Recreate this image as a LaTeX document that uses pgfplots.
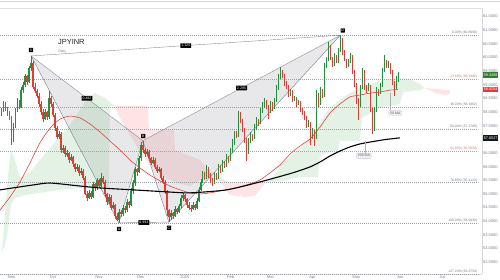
\documentclass[border=0pt]{standalone}
\usepackage{pgfplots}
\pgfplotsset{compat=1.18}
\usepackage{pgfplotstable}
\usepackage{fontspec}
\setmainfont{Liberation Sans}
\definecolor{cup}{HTML}{22903C}
\definecolor{cdn}{HTML}{E53935}
\definecolor{ma50}{HTML}{E53935}
\definecolor{fibgray}{HTML}{9AA0A6}
\definecolor{fibred}{HTML}{E08A8A}
\definecolor{cloudg}{HTML}{C8E6C9}
\definecolor{cloudr}{HTML}{FFCDD2}
\definecolor{patfill}{HTML}{9598A1}
\definecolor{patline}{HTML}{8A8E98}
\definecolor{lbl}{HTML}{787B86}
\definecolor{boxg}{HTML}{2E7D32}
\definecolor{boxr}{HTML}{E53935}
\definecolor{boxk}{HTML}{131722}
\definecolor{mabox}{HTML}{EEF0F3}
\definecolor{maboxd}{HTML}{C5C9D0}
\definecolor{pinkline}{HTML}{F3C6CA}

\pgfplotstableread{
i o h l c
-5 57.95 58.15 57.85 58.05
-4 58.05 58.40 58.00 58.30
1 57.00 57.60 56.90 57.50
2 57.50 58.15 57.40 58.10
3 58.10 58.50 58.00 58.40
5 58.20 58.90 58.15 58.80
6 58.80 59.10 58.70 59.00
7 59.00 59.40 58.90 59.30
9 59.10 59.70 59.05 59.60
10 59.60 60.05 59.50 59.80
17 57.75 58.10 57.70 58.00
19 57.80 58.75 57.75 58.50
24 57.10 57.30 57.00 57.20
26 56.60 56.80 56.50 56.70
28 56.45 56.60 56.35 56.50
30 56.25 56.45 56.20 56.35
33 55.90 56.10 55.85 56.00
35 55.75 55.95 55.70 55.85
39 54.85 55.15 54.80 55.05
41 54.90 55.45 54.85 55.35
43 55.20 55.60 55.15 55.50
45 55.30 55.75 55.25 55.60
49 54.70 55.00 54.65 54.90
51 54.50 54.70 54.45 54.60
54 54.05 54.45 53.943 54.35
56 54.25 54.60 54.20 54.50
58 54.40 54.80 54.35 54.70
60 54.60 55.20 54.55 55.10
61 55.10 55.50 55.00 55.40
62 55.40 56.00 55.30 55.90
64 55.80 56.40 55.75 56.30
65 56.30 56.90 56.20 56.80
68 56.45 56.65 56.40 56.55
71 56.15 56.35 56.10 56.25
74 55.85 56.00 55.80 55.90
80 54.15 54.40 54.05 54.30
82 54.20 54.55 54.15 54.45
84 54.35 54.65 54.30 54.55
85 54.55 54.95 54.50 54.85
86 54.85 55.05 54.75 54.95
91 54.45 54.70 54.40 54.60
93 54.50 54.85 54.45 54.75
94 54.75 55.25 54.70 55.15
95 55.15 55.55 55.10 55.45
96 55.45 55.85 55.40 55.75
98 55.60 56.05 55.55 55.95
102 55.40 55.80 55.35 55.70
104 55.60 56.10 55.55 56.00
106 55.85 56.25 55.80 56.15
108 56.05 56.45 56.00 56.35
110 56.25 56.70 56.20 56.60
111 56.60 57.00 56.50 56.90
112 56.90 57.30 56.80 57.20
114 57.15 58.05 57.10 57.95
119 56.55 57.05 56.45 56.95
120 56.95 57.25 56.85 57.15
122 57.05 57.55 57.00 57.45
123 57.45 57.80 57.35 57.70
125 57.60 58.15 57.55 58.05
126 58.05 58.35 57.95 58.25
127 58.25 58.50 58.15 58.40
130 58.00 58.40 57.95 58.30
132 58.15 58.50 58.10 58.40
133 58.40 59.00 58.35 58.90
134 58.90 59.40 58.80 59.30
135 59.30 59.65 59.20 59.50
140 58.65 58.85 58.60 58.75
142 58.45 58.60 58.40 58.50
144 58.30 58.45 58.25 58.35
149 57.50 57.70 57.45 57.60
151 57.10 57.40 57.00 57.30
153 57.05 58.80 57.00 58.60
155 58.30 58.90 58.25 58.80
157 58.60 59.80 58.55 59.70
158 59.70 60.00 59.60 59.90
159 59.90 60.55 59.85 60.40
162 59.75 60.15 59.70 60.05
164 59.85 60.35 59.80 60.25
165 60.25 60.809 60.20 60.55
169 59.70 59.95 59.65 59.85
170 59.85 60.15 59.80 60.05
175 58.25 59.00 58.20 58.90
176 58.90 59.60 58.85 59.50
179 58.80 59.05 58.75 58.95
182 57.35 58.20 57.30 58.10
183 58.10 58.90 58.00 58.80
185 58.70 59.05 58.65 58.95
186 58.95 59.60 58.90 59.50
187 59.50 60.10 59.45 59.80
189 59.70 59.85 59.60 59.75
193 58.90 59.30 58.85 59.20
194 59.20 59.45 59.10 59.35
}\upc

\pgfplotstableread{
i o h l c
-3 58.30 58.35 58.05 58.10
-2 58.10 58.20 57.85 57.95
-1 57.95 58.05 57.70 57.80
0 57.80 57.85 56.80 57.00
4 58.40 58.45 58.10 58.20
8 59.30 59.35 59.00 59.10
11 59.80 59.85 58.85 58.90
12 58.90 59.05 58.70 58.75
13 58.75 58.85 58.50 58.60
14 58.60 58.70 58.20 58.30
15 58.30 58.40 57.90 58.00
16 58.00 58.10 57.65 57.75
18 58.00 58.05 57.70 57.80
20 58.50 58.60 58.20 58.30
21 58.30 58.35 57.80 57.90
22 57.90 57.95 57.30 57.40
23 57.40 57.50 57.00 57.10
25 57.20 57.25 56.50 56.60
27 56.70 56.75 56.35 56.45
29 56.50 56.55 56.15 56.25
31 56.35 56.40 56.00 56.10
32 56.10 56.15 55.80 55.90
34 56.00 56.05 55.65 55.75
36 55.85 55.90 55.50 55.60
37 55.60 55.65 54.95 55.00
38 55.00 55.10 54.75 54.85
40 55.05 55.10 54.80 54.90
42 55.35 55.40 55.10 55.20
44 55.50 55.55 55.20 55.30
46 55.60 55.65 55.35 55.45
47 55.45 55.50 54.90 55.00
48 55.00 55.05 54.60 54.70
50 54.90 54.95 54.40 54.50
52 54.60 54.65 54.10 54.20
53 54.20 54.30 54.00 54.05
55 54.35 54.40 54.15 54.25
57 54.50 54.55 54.30 54.40
59 54.70 54.75 54.50 54.60
63 55.90 55.95 55.65 55.80
66 56.80 56.95 56.50 56.60
67 56.60 56.70 56.35 56.45
69 56.55 56.60 56.20 56.30
70 56.30 56.35 56.05 56.15
72 56.25 56.30 55.90 56.00
73 56.00 56.05 55.75 55.85
75 55.90 55.95 55.50 55.60
76 55.60 55.65 55.35 55.45
77 55.45 55.50 55.00 55.10
78 55.10 55.15 54.20 54.40
79 54.40 54.45 53.97 54.15
81 54.30 54.35 54.10 54.20
83 54.45 54.50 54.25 54.35
87 54.95 55.00 54.70 54.80
88 54.80 54.85 54.50 54.60
89 54.60 54.70 54.40 54.50
90 54.50 54.60 54.35 54.45
92 54.60 54.65 54.40 54.50
97 55.75 55.80 55.50 55.60
99 55.95 56.00 55.60 55.70
100 55.70 55.75 55.40 55.50
101 55.50 55.60 55.30 55.40
103 55.70 55.75 55.50 55.60
105 56.00 56.05 55.75 55.85
107 56.15 56.20 55.95 56.05
109 56.35 56.40 56.15 56.25
113 57.20 57.30 57.05 57.15
115 57.95 58.00 57.60 57.70
116 57.70 57.75 57.25 57.35
117 57.35 57.40 56.85 57.00
118 57.00 57.05 56.20 56.55
121 57.15 57.20 56.95 57.05
124 57.70 57.75 57.50 57.60
128 58.40 58.45 58.10 58.20
129 58.20 58.25 57.75 58.00
131 58.30 58.35 58.05 58.15
136 59.50 59.55 59.25 59.35
137 59.35 59.40 58.95 59.05
138 59.05 59.15 58.85 58.95
139 58.95 59.00 58.55 58.65
141 58.75 58.80 58.35 58.45
143 58.50 58.55 58.20 58.30
145 58.35 58.40 58.00 58.10
146 58.10 58.15 57.90 58.00
147 58.00 58.05 57.70 57.80
148 57.80 57.85 57.40 57.50
150 57.60 57.65 56.80 57.10
152 57.30 57.35 56.75 57.05
154 58.60 58.70 58.20 58.30
156 58.80 58.85 58.50 58.60
160 60.40 60.45 59.90 59.95
161 59.95 60.00 59.65 59.75
163 60.05 60.10 59.80 59.85
166 60.55 60.70 60.10 60.20
167 60.20 60.25 59.85 59.90
168 59.90 59.95 59.60 59.70
171 60.05 60.10 59.40 59.50
172 59.50 59.55 58.90 59.00
173 59.00 59.05 58.30 58.40
174 58.40 58.50 57.70 58.25
177 59.50 59.55 58.80 58.90
178 58.90 59.00 58.70 58.80
180 58.95 59.00 58.00 58.10
181 58.10 58.15 57.20 57.35
184 58.80 58.85 58.60 58.70
188 59.80 59.90 59.60 59.70
190 59.75 59.80 59.40 59.50
191 59.50 59.55 59.00 59.10
192 59.10 59.15 58.60 58.90
}\dnc

\pgfplotsset{
  candle/.style 2 args={draw=none, mark=none, forget plot,
    error bars/.cd, y dir=both, y explicit, error mark=none,
    error bar style={draw=#1, solid, line width=#2}},
}

\begin{document}
\begin{tikzpicture}
\begin{axis}[
  scale only axis, width=482bp, height=266.3bp,
  xmin=-5.6, xmax=236, ymin=52.06, ymax=61.805,
  clip=false,
  axis x line*=bottom, axis y line*=right,
  axis line style={draw=gray!30, line width=0.5bp},
  major tick length=0pt,
  xtick={0,21,44,65,87,110,130,151,173,195,216},
  xticklabels={Sep,Oct,Nov,Dec,2025,Feb,Mar,Apr,May,Jun,Jul},
  ytick={52.5,53,53.5,54,54.5,55,55.5,56,56.5,57,57.5,58,58.5,59,59.5,60,60.5,61,61.5},
  /pgf/number format/assume math mode=true,
  yticklabel style={font=\fontsize{4}{4.5}\selectfont, text=lbl, inner sep=1bp,
    /pgf/number format/fixed, /pgf/number format/fixed zerofill, /pgf/number format/precision=4},
  xticklabel style={font=\fontsize{4}{4.5}\selectfont, text=lbl, inner sep=1bp},
]
% Ichimoku cloud
\addplot[draw=none, fill=cloudg, fill opacity=0.5] coordinates {
(-4.61,52.95) (-3.11,54.23) (-1.60,55.70) (-0.10,56.61) (1.90,56.24) (4.41,55.59) (9.42,55.80) (14.44,56.24) (22.96,56.98) (29.47,57.52) (36.99,58.37) (42.01,58.70) (47.02,58.51) (49.52,58.37) (51.53,58.22) (49.52,58.22) (49.02,55.26) (43.51,55.26) (34.49,55.22) (24.46,55.15) (14.44,55.04) (6.92,54.96) (1.90,54.85) (-0.10,54.60) (-1.60,53.68) (-3.11,53.13) (-4.61,52.88)} -- cycle;
\addplot[draw=none, fill=cloudr, fill opacity=0.55] coordinates {
(51.53,58.22) (68.57,58.22) (69.07,57.34) (81.60,57.34) (82.11,56.61) (94.64,56.24) (99.65,55.80) (104.66,55.59) (109.67,55.44) (126.22,55.44) (127.22,55.40) (122.21,54.93) (117.19,54.89) (109.67,54.96) (104.66,55.44) (99.65,55.59) (94.64,55.51) (89.62,55.29) (84.61,55.37) (79.60,55.51) (74.59,55.70) (69.57,56.06) (64.56,56.54) (59.55,57.16) (54.54,57.78)} -- cycle;
\addplot[draw=none, fill=cloudg, fill opacity=0.5] coordinates {
(127.22,55.40) (132.23,55.70) (136.24,56.13) (140.75,56.43) (144.76,56.68) (149.77,57.05) (154.79,57.63) (159.80,58.15) (164.81,58.44) (169.82,58.70) (174.84,58.88) (179.85,59.02) (184.86,59.13) (189.87,59.21) (194.89,59.24) (199.90,59.21) (204.91,59.02) (207.42,58.88) (204.91,58.80) (196.39,58.73) (194.89,58.29) (184.86,58.15) (175.84,57.78) (174.84,56.94) (164.81,56.94) (163.81,56.61) (154.79,56.43) (153.78,55.62) (144.76,55.62) (136.24,55.48)} -- cycle;
\addplot[draw=none, fill=cloudr, fill opacity=0.55] coordinates {
(207.42,58.88) (212.43,58.84) (219.95,58.80) (219.95,58.66) (217.44,58.62) (212.43,58.70)} -- cycle;

% Fibonacci levels
\addplot[fibgray, line width=0.45bp, dash pattern=on 0.9bp off 1.1bp] coordinates {(-5.6,60.809) (234,60.809)};
\addplot[fibred, line width=0.45bp, dash pattern=on 0.9bp off 1.1bp] coordinates {(-5.6,59.1886) (234,59.1886)};
\addplot[fibgray, line width=0.45bp, dash pattern=on 0.9bp off 1.1bp] coordinates {(-5.6,58.1862) (234,58.1862)};
\addplot[fibgray, line width=0.45bp, dash pattern=on 0.9bp off 1.1bp] coordinates {(-5.6,57.376) (234,57.376)};
\addplot[fibred, line width=0.45bp, dash pattern=on 0.9bp off 1.1bp] coordinates {(-5.6,56.5658) (234,56.5658)};
\addplot[fibgray, line width=0.45bp, dash pattern=on 0.9bp off 1.1bp] coordinates {(-5.6,55.4123) (234,55.4123)};
\addplot[fibgray, line width=0.45bp, dash pattern=on 0.9bp off 1.1bp] coordinates {(-5.6,53.943) (234,53.943)};
\addplot[fibgray, line width=0.45bp, dash pattern=on 0.9bp off 1.1bp] coordinates {(-5.6,52.0754) (234,52.0754)};

% XABCD pattern
\addplot[draw=none, fill=patfill, fill opacity=0.22] coordinates {(10,60.05) (54,53.943) (66,56.95)} -- cycle;
\addplot[draw=none, fill=patfill, fill opacity=0.22] coordinates {(66,56.95) (79,53.97) (165,60.809)} -- cycle;
\addplot[patline, line width=0.5bp] coordinates {(10,60.05) (54,53.943) (66,56.95) (79,53.97) (165,60.809)};
\addplot[patline, line width=0.4bp] coordinates {(10,60.05) (66,56.95)};
\addplot[patline, line width=0.4bp] coordinates {(54,53.943) (79,53.97)};
\addplot[patline, line width=0.4bp] coordinates {(66,56.95) (165,60.809)};
\addplot[patline, line width=0.4bp] coordinates {(10,60.05) (165,60.809)};

% candles
\addplot[candle={cup}{0.4bp}]
  table[x=i, y expr={0.5*(\thisrow{h}+\thisrow{l})}, y error expr={0.5*(\thisrow{h}-\thisrow{l})}] {\upc};
\addplot[candle={cup}{1.3bp}]
  table[x=i, y expr={0.5*(\thisrow{o}+\thisrow{c})}, y error expr={0.5*(\thisrow{c}-\thisrow{o})}] {\upc};
\addplot[candle={cdn}{0.4bp}]
  table[x=i, y expr={0.5*(\thisrow{h}+\thisrow{l})}, y error expr={0.5*(\thisrow{h}-\thisrow{l})}] {\dnc};
\addplot[candle={cdn}{1.3bp}]
  table[x=i, y expr={0.5*(\thisrow{o}+\thisrow{c})}, y error expr={0.5*(\thisrow{o}-\thisrow{c})}] {\dnc};

% moving averages
\addplot[ma50, line width=0.55bp, smooth, tension=0.4] coordinates {
(-5.6,54.41) (-0.6,54.89) (4.4,55.44) (9.4,56.13) (14.4,56.87) (19.5,57.41) (24.5,57.74) (29.5,57.85) (34.5,57.78) (39.5,57.56) (44.5,57.27) (49.5,56.94) (54.5,56.61) (59.6,56.24) (64.6,55.95) (69.6,55.69) (74.6,55.48) (79.6,55.29) (84.6,55.15) (89.6,55.04) (94.6,55.00) (99.7,55.04) (104.7,55.11) (109.7,55.18) (114.7,55.26) (119.7,55.37) (124.7,55.51) (129.7,55.77) (134.7,56.06) (139.8,56.46) (144.8,56.76) (149.8,57.01) (154.8,57.45) (159.8,57.96) (164.8,58.29) (169.8,58.55) (174.8,58.62) (179.9,58.69) (184.9,58.73) (189.9,58.80) (194,58.8254)};
\addplot[black, line width=1.1bp, smooth, tension=0.4] coordinates {
(-5.6,55.15) (11,55.33) (19.5,55.40) (34.5,55.29) (44.5,55.22) (61,55.15) (79.6,55.07) (89.6,55.04) (108,55.15) (124.7,55.44) (141,55.77) (149.8,55.99) (154.8,56.17) (159.8,56.39) (164.8,56.57) (169.8,56.72) (174.8,56.83) (179.9,56.90) (187.4,56.99) (194.9,57.0527)};

% fib labels
\begin{scope}[every node/.style={anchor=south east, font=\fontsize{3.4}{3.6}\selectfont, text=lbl, inner sep=0.6bp}]
\node at (axis cs:234,60.809) {0.00\% (60.8090)};
\node[text=fibred!90!black] at (axis cs:234,59.1886) {23.60\% (59.1886)};
\node at (axis cs:234,58.1862) {38.20\% (58.1862)};
\node at (axis cs:234,57.376) {50.00\% (57.3760)};
\node[text=fibred!90!black] at (axis cs:234,56.5658) {61.80\% (56.5658)};
\node at (axis cs:234,55.4123) {78.60\% (55.4123)};
\node at (axis cs:234,53.943) {100.00\% (53.9430)};
\node at (axis cs:234,52.0754) {127.20\% (52.0754)};
\end{scope}

% title
\node[anchor=west, font=\fontsize{7.5}{8}\selectfont, text=black!85, inner sep=0pt] at (axis cs:23.4,60.58) {JPYINR};
\node[anchor=west, font=\fontsize{3.5}{4}\selectfont, text=lbl, inner sep=0pt] at (axis cs:23.5,60.21) {Daily};

% point labels
\begin{scope}[every node/.style={fill=black, text=white, font=\fontsize{3.5}{3.8}\selectfont, inner sep=0.9bp, rounded corners=0.4bp}]
\node at (axis cs:9.92,60.27) {X};
\node at (axis cs:54.04,53.72) {A};
\node at (axis cs:66.2,57.12) {B};
\node at (axis cs:79.1,53.76) {C};
\node at (axis cs:166.2,60.98) {D};
\node[inner sep=1.1bp] at (axis cs:38,58.5) {0.492};
\node[inner sep=1.1bp] at (axis cs:87.5,60.43) {1.124};
\node[inner sep=1.1bp] at (axis cs:115.5,58.88) {2.295};
\node[inner sep=1.1bp] at (axis cs:66.5,53.955) {0.993};
\end{scope}

% MA annotations
\draw[gray!60, line width=0.35bp] (axis cs:189.9,58.70) -- (axis cs:189.9,58.07);
\node[fill=mabox, draw=maboxd, line width=0.3bp, rounded corners=1bp, text=black!65, font=\fontsize{3.5}{4}\selectfont, inner sep=1.4bp, anchor=north west] at (axis cs:189.2,58.07) {50 MA};
\draw[gray!60, line width=0.35bp] (axis cs:177.3,56.94) -- (axis cs:177.3,56.50);
\node[fill=mabox, draw=maboxd, line width=0.3bp, rounded corners=1bp, text=black!65, font=\fontsize{3.5}{4}\selectfont, inner sep=1.4bp, anchor=north] at (axis cs:176.8,56.50) {200 MA};

\coordinate (pg) at (axis cs:236,59.3468);
\coordinate (pr) at (axis cs:236,58.8254);
\coordinate (pb) at (axis cs:236,57.0527);
\coordinate (sw) at (rel axis cs:0,0);
\coordinate (nw) at (rel axis cs:0,1);
\coordinate (ne) at (rel axis cs:1,1);
\end{axis}
\begin{scope}[every node/.style={anchor=west, text=white, font=\fontsize{3.8}{4}\selectfont, inner sep=0.8bp, minimum width=15bp, minimum height=5.5bp, xshift=0.8bp}]
\node[fill=boxg] at (pg) {59.3468};
\node[fill=boxr] at (pr) {58.8254};
\node[fill=boxk] at (pb) {57.0527};
\end{scope}
\draw[gray!25, line width=0.4bp] (nw) -- (ne);
\draw[pinkline, line width=1.4bp] ([yshift=6.5bp]nw) -- ([yshift=6.5bp,xshift=500bp]nw);
\pgfresetboundingbox
\path[use as bounding box] ([yshift=-5.7bp]sw) rectangle ([xshift=500bp,yshift=274.3bp]sw);
\end{tikzpicture}
\end{document}
